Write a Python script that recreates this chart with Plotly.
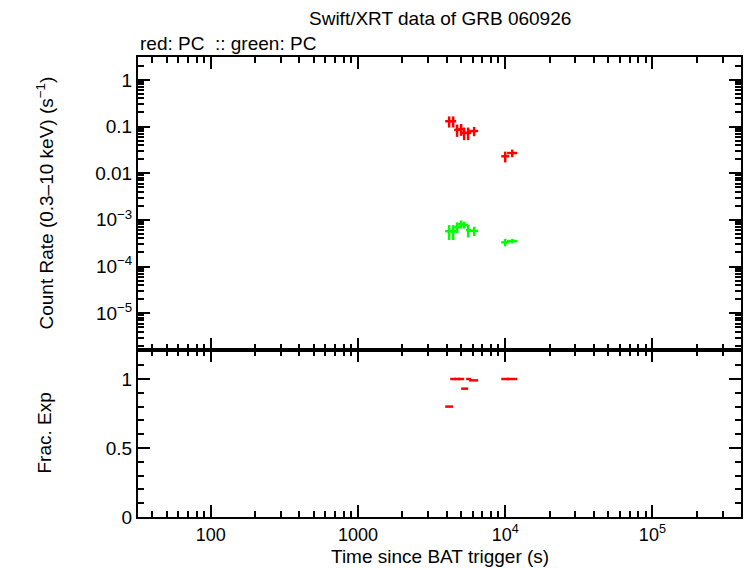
import plotly.graph_objects as go
import numpy as np

# Time bins (s)
t_mid = [4160, 4430, 4710, 5020, 5260, 5600, 6150, 10000, 11170]
t_lo = [3910, 4230, 4500, 4790, 5020, 5430, 5690, 9400, 10300]
t_hi = [4430, 4640, 4940, 5260, 5600, 5870, 6550, 10650, 12080]

# Red (PC) count rates
red_rate = [0.13, 0.13, 0.085, 0.088, 0.073, 0.073, 0.080, 0.023, 0.027]
red_err = [0.035, 0.035, 0.025, 0.025, 0.022, 0.022, 0.018, 0.006, 0.005]

# Green (PC) count rates
green_rate = [5.7e-4, 5.7e-4, 7.0e-4, 8.1e-4, 7.8e-4, 6.0e-4, 5.8e-4, 3.3e-4, 3.5e-4]
green_err = [2.0e-4, 2.0e-4, 1.8e-4, 1.6e-4, 1.3e-4, 1.8e-4, 1.3e-4, 0.6e-4, 0.4e-4]

# Fractional exposure
frac_exp = [0.80, 1.0, 1.0, 1.0, 0.93, 1.0, 0.99, 1.0, 1.0]

x_ticks = [100, 1000, 1e4, 1e5]
x_ticktext = ["100", "1000", "10<sup>4</sup>", "10<sup>5</sup>"]
y_ticks = [1, 0.1, 0.01, 1e-3, 1e-4, 1e-5]
y_ticktext = ["1", "0.1", "0.01", "10<sup>−3</sup>", "10<sup>−4</sup>", "10<sup>−5</sup>"]
f_ticks = [0, 0.5, 1]
f_ticktext = ["0", "0.5", "1"]

xp = np.array(t_hi) - np.array(t_mid)
xm = np.array(t_mid) - np.array(t_lo)

RED = "#ff0000"
GREEN = "#00ff00"

fig = go.Figure()

def eb(x, y, yerr, color, xaxis, yaxis, use_y=True):
    return go.Scatter(
        x=x, y=y, mode="markers", xaxis=xaxis, yaxis=yaxis,
        marker=dict(size=1, color=color, opacity=0),
        error_x=dict(type="data", symmetric=False, array=xp, arrayminus=xm,
                     color=color, thickness=2.5, width=0),
        error_y=(dict(type="data", array=yerr, color=color, thickness=2.5, width=0)
                 if use_y else dict(visible=False)),
        showlegend=False, hoverinfo="skip")

fig.add_trace(eb(t_mid, red_rate, red_err, RED, "x", "y"))
fig.add_trace(eb(t_mid, green_rate, green_err, GREEN, "x", "y"))
fig.add_trace(eb(t_mid, frac_exp, None, RED, "x2", "y2", use_y=False))

minor_x = [m * 10 ** k for k in range(1, 6) for m in range(2, 10)]
minor_y = [m * 10 ** k for k in range(-6, 1) for m in range(2, 10)]

font = dict(family="Liberation Sans, Arial, sans-serif", size=19, color="black")
xtick_font = dict(family="Liberation Sans, Arial, sans-serif", size=18, color="black")

ax_common = dict(showline=True, linecolor="black", linewidth=2, mirror="allticks",
                 ticks="inside", tickcolor="black", tickwidth=2, showgrid=False,
                 zeroline=False)

xrange = [np.log10(32), np.log10(4.0e5)]

fig.update_layout(
    width=746, height=568,
    margin=dict(l=138, r=3, t=57, b=51),
    plot_bgcolor="white", paper_bgcolor="white",
    font=font,
    xaxis=dict(type="log", range=xrange, anchor="y", domain=[0, 1],
               tickvals=x_ticks, ticktext=["", "", "", ""], ticklen=12,
               tickfont=xtick_font,
               minor=dict(tickvals=minor_x, ticks="inside", ticklen=6, tickwidth=2,
                          tickcolor="black", showgrid=False),
               **ax_common),
    yaxis=dict(type="log", range=[-5.79, 0.49], domain=[0.363, 1], anchor="x",
               tickvals=y_ticks, ticktext=y_ticktext, ticklen=12, tickfont=font,
               minor=dict(tickvals=minor_y, ticks="inside", ticklen=6, tickwidth=2,
                          tickcolor="black", showgrid=False),
               **ax_common),
    xaxis2=dict(type="log", range=xrange, anchor="y2", domain=[0, 1], matches="x",
                tickvals=x_ticks, ticktext=x_ticktext, ticklen=12,
                tickfont=xtick_font,
                minor=dict(tickvals=minor_x, ticks="inside", ticklen=6, tickwidth=2,
                           tickcolor="black", showgrid=False),
                **ax_common),
    yaxis2=dict(range=[0, 1.21], domain=[0, 0.363], anchor="x2",
                tickvals=f_ticks, ticktext=f_ticktext, ticklen=12, tickfont=font,
                minor=dict(dtick=0.1, ticks="inside", ticklen=6, tickwidth=2,
                           tickcolor="black", showgrid=False),
                **ax_common),
)

fig.add_annotation(text="Swift/XRT data of GRB 060926", xref="paper", yref="paper",
                   x=0.5, y=1, yshift=39, showarrow=False, font=font, yanchor="middle")
fig.add_annotation(text="red: PC  :: green: PC", xref="paper", yref="paper",
                   x=0, y=1, yshift=14, showarrow=False, font=font,
                   xanchor="left", yanchor="middle")
fig.add_annotation(text="Count Rate (0.3–10 keV) (s<sup>−1</sup>)", xref="paper", yref="paper",
                   x=0, xshift=-93, y=(0.363 + 1) / 2, showarrow=False, font=font,
                   textangle=-90, xanchor="center", yanchor="middle")
fig.add_annotation(text="Frac. Exp", xref="paper", yref="paper",
                   x=0, xshift=-93, y=0.363 / 2, showarrow=False, font=font,
                   textangle=-90, xanchor="center", yanchor="middle")
fig.add_annotation(text="Time since BAT trigger (s)", xref="paper", yref="paper",
                   x=0.5, y=0, yshift=-39, showarrow=False, font=font,
                   xanchor="center", yanchor="middle")

fig.write_html("out.html")
